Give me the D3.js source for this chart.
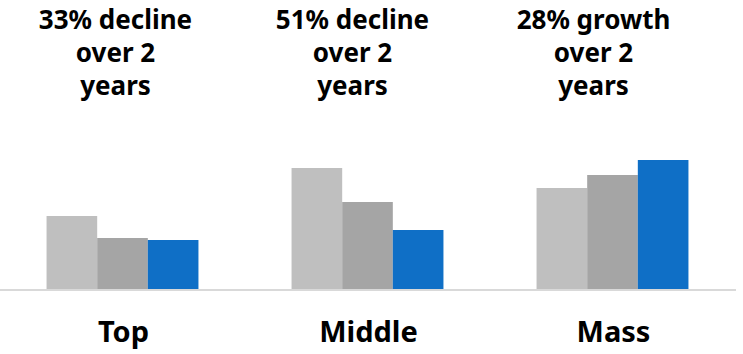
<!DOCTYPE html>
<html>
<head>
<meta charset="utf-8">
<script src="https://cdn.jsdelivr.net/npm/d3@7"></script>
<style>
  html, body { margin: 0; padding: 0; background: #ffffff; }
  svg { display: block; font-family: "Noto Sans", "Open Sans", sans-serif; }
</style>
</head>
<body>
<svg id="chart" width="743" height="354"></svg>
<script>
// chart data
const categories = ['Top', 'Middle', 'Mass'];
const periods = ['Year 0', 'Year 1', 'Year 2'];
const topValues = [73, 51, 49];
const middleValues = [121, 87, 59];
const massValues = [101, 114, 129];
const annotations = [
  ['33% decline', 'over 2', 'years'],
  ['51% decline', 'over 2', 'years'],
  ['28% growth', 'over 2', 'years']
];

const seriesByCategory = [topValues, middleValues, massValues];

// layout
const width = 743;
const height = 354;
const baseline = 289;
const colors = ['#bfbfbf', '#a5a5a5', '#0f6fc6'];
const annotationShift = [-7, -15, -19]; // text boxes sit a bit left of the groups
const noteLineHeight = 33;

const svg = d3.select('#chart');

const x = d3.scaleBand()
  .domain(categories)
  .range([0, 735])
  .paddingInner(0.38)
  .paddingOuter(0.19);

const xInner = d3.scaleBand()
  .domain(periods)
  .range([0, x.bandwidth()])
  .padding(0);

const y = d3.scaleLinear()
  .domain([0, baseline])
  .range([baseline, 0]);

const groups = svg.selectAll('.group')
  .data(categories)
  .join('g')
    .attr('class', 'group')
    .attr('transform', d => `translate(${x(d)}, 0)`);

groups.selectAll('rect')
  .data((d, i) => seriesByCategory[i].map((v, j) => ({ period: periods[j], value: v, idx: j })))
  .join('rect')
    .attr('x', d => xInner(d.period))
    .attr('y', d => y(d.value))
    .attr('width', xInner.bandwidth())
    .attr('height', d => y(0) - y(d.value))
    .attr('fill', d => colors[d.idx]);

// baseline
svg.append('line')
  .attr('x1', 0)
  .attr('x2', 736)
  .attr('y1', y(0) + 1)
  .attr('y2', y(0) + 1)
  .attr('stroke', '#d9d9d9')
  .attr('stroke-width', 2);

// category labels
svg.selectAll('.cat-label')
  .data(categories)
  .join('text')
    .attr('class', 'cat-label')
    .attr('x', d => x(d) + x.bandwidth() / 2 + 1)
    .attr('y', 342)
    .attr('text-anchor', 'middle')
    .style('font-size', '29px')
    .style('font-weight', 700)
    .attr('fill', '#000000')
    .text(d => d);

// annotations above groups, one text per line
const notes = svg.selectAll('.note')
  .data(annotations)
  .join('g')
    .attr('class', 'note');

notes.selectAll('text')
  .data((d, i) => d.map(line => ({ line, i })))
  .join('text')
    .attr('text-anchor', 'middle')
    .style('font-size', '26px')
    .style('font-weight', 700)
    .attr('fill', '#000000')
    .attr('x', d => x(categories[d.i]) + x.bandwidth() / 2 + annotationShift[d.i])
    .attr('y', (d, k) => 29 + k * noteLineHeight)
    .text(d => d.line);
</script>
</body>
</html>
